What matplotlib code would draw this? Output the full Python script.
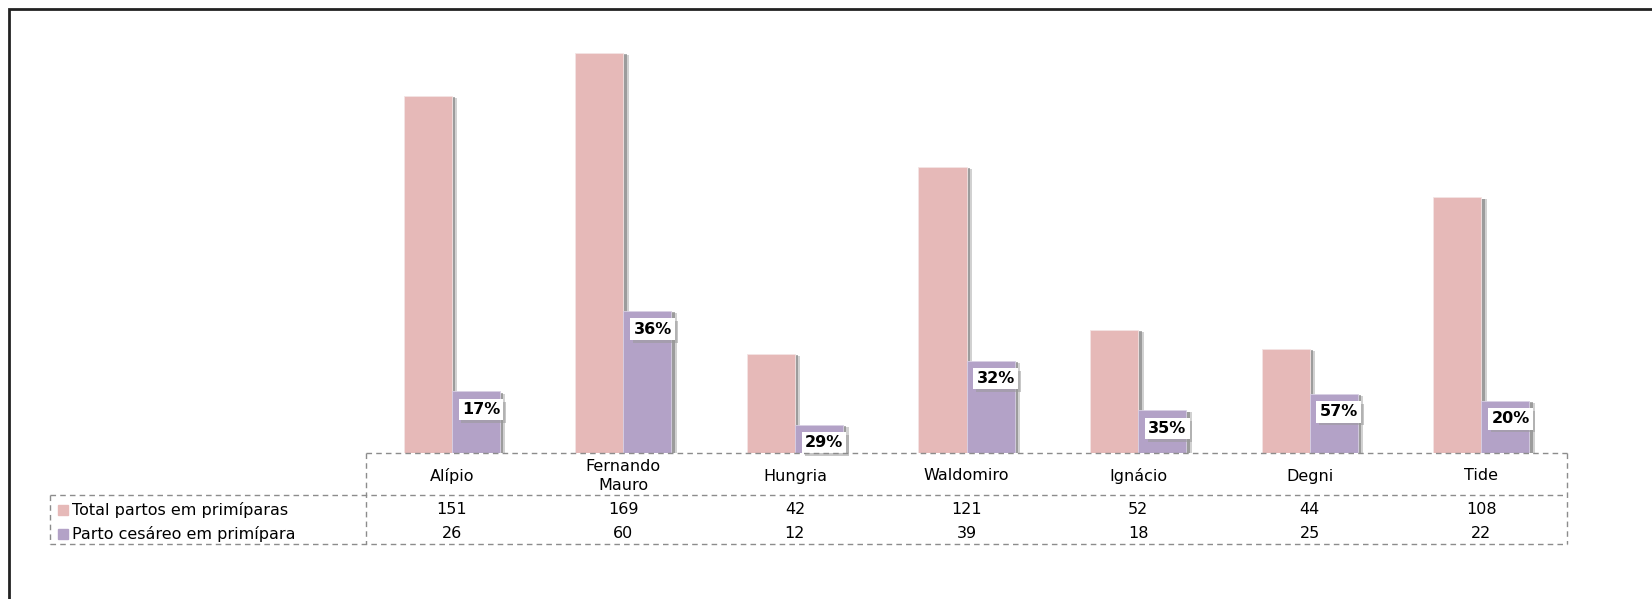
import matplotlib.pyplot as plt
import matplotlib.patheffects as pe
from matplotlib.lines import Line2D
from matplotlib.patches import Rectangle
import numpy as np

# dados
categorias = ['Alípio', 'Fernando\nMauro', 'Hungria', 'Waldomiro', 'Ignácio', 'Degni', 'Tide']
total_partos = [151, 169, 42, 121, 52, 44, 108]
partos_cesareos = [26, 60, 12, 39, 18, 25, 22]
series = ['Total partos em primíparas', 'Parto cesáreo em primípara']

COR_TOTAL = '#E6B9B8'
COR_CESAREO = '#B3A2C7'
LINHA = '#8C8C8C'

plt.rcParams['font.family'] = ['DejaVu Sans']

W, H = 1652, 599
fig = plt.figure(figsize=(W / 100, H / 100), dpi=100)

def fx(px):
    return px / W

def fy(py):
    return 1 - py / H

# moldura externa
fig.patches.append(Rectangle((fx(9), fy(700)), fx(1700), fy(9) - fy(700),
                             transform=fig.transFigure, fill=False,
                             edgecolor='#222222', linewidth=2))

ax = fig.add_axes([fx(366), fy(453), fx(1567) - fx(366), fy(27) - fy(453)])
x = np.arange(len(categorias))
w = 0.28
sombra = [pe.SimplePatchShadow(offset=(4, -1.5), shadow_rgbFace='#9a9a9a', alpha=0.45),
          pe.SimplePatchShadow(offset=(2.5, -1), shadow_rgbFace='#7a7a7a', alpha=0.6),
          pe.Normal()]
b1 = ax.bar(x - w / 2, total_partos, w, color=COR_TOTAL, edgecolor='#f4e4e4', linewidth=0.6)
b2 = ax.bar(x + w / 2, partos_cesareos, w, color=COR_CESAREO, edgecolor='#d8d0e4', linewidth=0.6)
for b in list(b1) + list(b2):
    b.set_path_effects(sombra)

ax.set_xlim(-0.5, len(categorias) - 0.5)
ax.set_ylim(0, 180)
ax.axis('off')

# rótulos de percentagem
for xi, t, c in zip(x, total_partos, partos_cesareos):
    p = c / t
    ax.annotate(f'{p:.0%}', (xi + w / 2 + 0.03, c), xytext=(2, -15), textcoords='offset points',
                ha='center', va='center', fontsize=11.5, fontweight='bold', color='none',
                bbox=dict(boxstyle='square,pad=0.2', fc='#9a9a9a', ec='none', alpha=0.55))
    ax.annotate(f'{p:.0%}', (xi + w / 2 + 0.03, c), xytext=(0, -13), textcoords='offset points',
                ha='center', va='center', fontsize=11.5, fontweight='bold', color='black',
                bbox=dict(boxstyle='square,pad=0.2', fc='white', ec='none'))

# tabela de dados
def yax(py):
    return (fy(py) - fy(453)) / (fy(27) - fy(453))

tr = ax.get_xaxis_transform()
for xi, nome in zip(x, categorias):
    ax.text(xi, yax(476), nome, transform=tr,
            ha='center', va='center', fontsize=11.5, linespacing=1.3)

linhas_y = [510, 534]
for valores, py in zip([total_partos, partos_cesareos], linhas_y):
    for xi, v in zip(x, valores):
        ax.text(xi, yax(py), str(v), transform=tr, ha='center', va='center', fontsize=11.5)

for nome, cor, py in zip(series, [COR_TOTAL, COR_CESAREO], linhas_y):
    fig.patches.append(Rectangle((fx(58), fy(py + 5)), fx(10), fy(py - 5) - fy(py + 5),
                                 transform=fig.transFigure, color=cor))
    fig.text(fx(72), fy(py), nome, ha='left', va='center', fontsize=11.5)

def tracejado(x0, y0, x1, y1):
    fig.add_artist(Line2D([fx(x0), fx(x1)], [fy(y0), fy(y1)], transform=fig.transFigure,
                          color=LINHA, linewidth=1, linestyle=(0, (4, 3))))

tracejado(366, 453, 1567, 453)
tracejado(50, 495, 1567, 495)
tracejado(50, 544, 1567, 544)
tracejado(366, 453, 366, 544)
tracejado(50, 495, 50, 544)
tracejado(1567, 453, 1567, 544)

fig.savefig('out.png', dpi=100)
